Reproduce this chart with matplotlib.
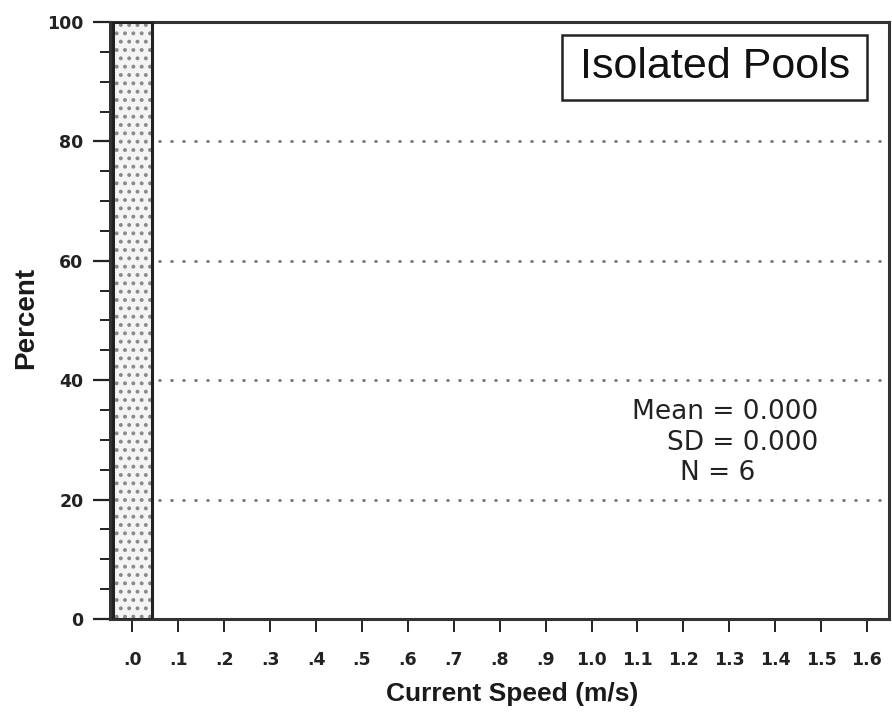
import matplotlib
matplotlib.use("Agg")
import matplotlib.pyplot as plt
from matplotlib.patches import Rectangle
from matplotlib.ticker import MultipleLocator

plt.rcParams['font.family'] = ['Liberation Sans', 'DejaVu Sans']

# Data
speeds = [0.0, 0.1, 0.2, 0.3, 0.4, 0.5, 0.6, 0.7, 0.8, 0.9, 1.0, 1.1, 1.2, 1.3, 1.4, 1.5, 1.6]
percent = [100, 0, 0, 0, 0, 0, 0, 0, 0, 0, 0, 0, 0, 0, 0, 0, 0]
tick_labels = ['.0', '.1', '.2', '.3', '.4', '.5', '.6', '.7', '.8', '.9',
               '1.0', '1.1', '1.2', '1.3', '1.4', '1.5', '1.6']
title_text = "Isolated Pools"
stats_lines = ["Mean = 0.000", "SD = 0.000", "N = 6"]

fig = plt.figure(figsize=(8.92, 7.17), dpi=100)
ax = fig.add_axes([0.1233, 0.1367, 0.8733, 0.8326])

plot_s = [s for s, p in zip(speeds, percent) if p > 0]
plot_p = [p for p in percent if p > 0]

plt.rcParams['hatch.linewidth'] = 1.6
bw = 0.085
ax.bar(plot_s, plot_p, width=bw, color='#f4f4f4', edgecolor='#8a8a8a',
       hatch='..', linewidth=0, zorder=3)
ax.bar(plot_s, plot_p, width=bw, color='none', edgecolor='#222222',
       linewidth=2.2, zorder=4)

ax.set_xlim(-0.049, 1.648)
ax.set_ylim(0, 100)

for y in [20, 40, 60, 80]:
    ax.axhline(y, color='#6a6a6a', linestyle=(0, (1.2, 3.6)), linewidth=1.8, zorder=1)

tick_font = dict(family='DejaVu Sans', size=12.5, weight='bold')
ax.set_xticks(speeds)
ax.set_xticklabels(tick_labels, color='#222222', **tick_font)
ax.yaxis.set_minor_locator(MultipleLocator(5))
ax.set_yticks([0, 20, 40, 60, 80, 100])
ax.set_yticklabels(['0', '20', '40', '60', '80', '100'], color='#222222', **tick_font)
ax.tick_params(axis='y', which='major', length=12, width=1.6, direction='out', pad=7,
               colors='#222222')
ax.tick_params(axis='y', which='minor', length=7, width=1.4, direction='out', colors='#222222')
ax.tick_params(axis='x', which='major', length=9, width=1.4, direction='out', pad=14,
               colors='#222222')

for sp in ax.spines.values():
    sp.set_linewidth(2.2)
    sp.set_color('#333333')

ax.set_xlabel("Current Speed (m/s)", fontsize=19, fontweight='bold', color='#1a1a1a')
ax.xaxis.set_label_coords(0.516, -0.126)
ax.xaxis.label.set_va('center')
ax.set_ylabel("Percent", fontsize=20, fontweight='bold', color='#1a1a1a')
ax.yaxis.set_label_coords(-0.108, 0.504)
ax.yaxis.label.set_va('center')

# Title box
ax.add_patch(Rectangle((0.580, 0.869), 0.392, 0.109, transform=ax.transAxes,
                       facecolor='white', edgecolor='#222222', linewidth=1.8, zorder=5))
ax.text(0.7766, 0.924, title_text, transform=ax.transAxes, ha='center', va='center',
        fontsize=31, color='#111111', zorder=6)

stat_font = dict(family='DejaVu Sans', size=19, color='#222222')
ax.text(1.493, 34.7, stats_lines[0], ha='right', va='center', **stat_font)
ax.text(1.493, 29.5, stats_lines[1], ha='right', va='center', **stat_font)
ax.text(1.356, 24.5, stats_lines[2], ha='right', va='center', **stat_font)

fig.savefig("out.png", dpi=100, facecolor='white')
